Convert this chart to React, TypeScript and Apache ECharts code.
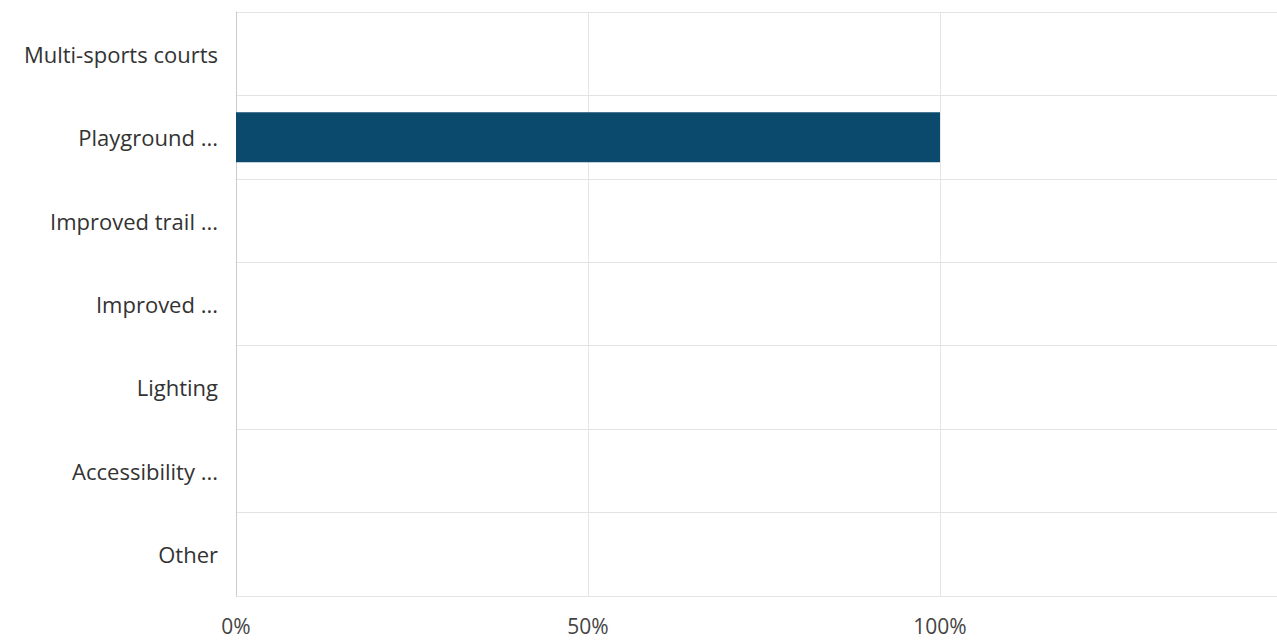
import React, { useEffect, useRef } from "react";
import * as echarts from "echarts";

const categories = [
  "Multi-sports courts",
  "Playground ...",
  "Improved trail ...",
  "Improved ...",
  "Lighting",
  "Accessibility ...",
  "Other",
];
const values = [0, 100, 0, 0, 0, 0, 0];
const xTicks = [0, 50, 100, 150];

export default function App() {
  const ref = useRef<HTMLDivElement>(null);
  useEffect(() => {
    document.body.style.margin = "0";
    const chart = echarts.init(ref.current!, null, { renderer: "svg" });
    chart.setOption({
      animation: false,
      backgroundColor: "#ffffff",
      grid: { left: 236, top: 12, height: 584, width: 1056, containLabel: false },
      xAxis: {
        type: "value",
        min: xTicks[0],
        max: xTicks[xTicks.length - 1],
        interval: 50,
        axisLine: { show: false },
        axisTick: { show: false },
        splitLine: { show: true, lineStyle: { color: "#e6e6e6", width: 1 } },
        axisLabel: {
          formatter: (v: number) => v + "%",
          color: "#444444",
          fontFamily: "Open Sans",
          fontSize: 21,
          margin: 19,
          showMaxLabel: false,
        },
      },
      yAxis: {
        type: "category",
        data: categories,
        inverse: true,
        axisLine: { show: true, lineStyle: { color: "#cccccc", width: 1 } },
        axisTick: { show: false },
        splitLine: { show: true, lineStyle: { color: "#e3e3e3", width: 1 } },
        axisLabel: {
          color: "#333333",
          fontFamily: "Open Sans",
          fontSize: 22,
          margin: 18,
        },
      },
      series: [
        {
          type: "bar",
          data: values,
          barWidth: 50,
          itemStyle: { color: "#0b4a6c" },
        },
      ],
    });
    return () => chart.dispose();
  }, []);
  return (
    <div style={{ position: "absolute", left: 0, top: 0, width: 1277, height: 641, overflow: "hidden" }}>
      <div ref={ref} style={{ width: 1320, height: 641 }} />
    </div>
  );
}
